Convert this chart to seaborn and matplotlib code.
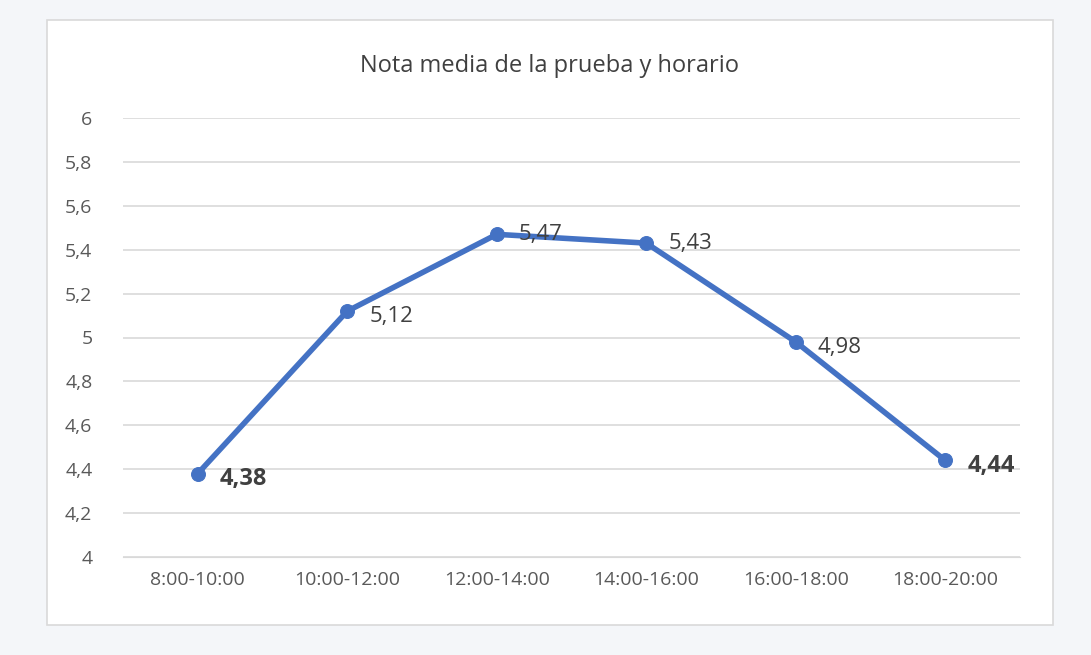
import matplotlib
matplotlib.use('Agg')
import matplotlib.pyplot as plt
import seaborn as sns
from matplotlib.patches import Rectangle

horarios = ['8:00-10:00', '10:00-12:00', '12:00-14:00', '14:00-16:00', '16:00-18:00', '18:00-20:00']
notas = [4.38, 5.12, 5.47, 5.43, 4.98, 4.44]
negrita = [True, False, False, False, False, True]

sns.set_style('white')
plt.rcParams['font.family'] = ['Open Sans', 'DejaVu Sans']

fig = plt.figure(figsize=(10.91, 6.55), dpi=100)
fig.patch.set_facecolor('#f4f6f9')
# marco blanco del gráfico, detrás de los ejes
fig.patches.append(Rectangle((47/1091, 1-625/655), 1006/1091, 605/655, transform=fig.transFigure,
                             facecolor='white', edgecolor='#d9d9d9', lw=1.2, zorder=-10))

ax = fig.add_axes([123/1091, 1-557/655, 897/1091, 439/655])
ax.patch.set_alpha(0)
x = list(range(len(horarios)))
sns.lineplot(x=x, y=notas, ax=ax, color='#4472C4', lw=4, marker='o', markersize=10,
             markeredgecolor='#4472C4', zorder=3)

ax.set_xlim(-0.5, 5.5)
ax.set_ylim(4, 6)
yt = [4 + 0.2*i for i in range(11)]
ax.set_yticks(yt)
ax.set_yticklabels([f'{v:.1f}'.rstrip('0').rstrip('.').replace('.', ',') for v in yt])
ax.set_xticks(x)
ax.set_xticklabels(horarios)
ax.tick_params(axis='both', length=0, labelsize=14, colors='#595959', pad=10)
ax.tick_params(axis='y', pad=22)
ax.grid(axis='y', color='#d9d9d9', lw=1.2)
ax.set_axisbelow(True)
for s in ['left', 'right', 'top']:
    ax.spines[s].set_visible(False)
ax.spines['bottom'].set_color('#d9d9d9')

for xi, yi, b in zip(x, notas, negrita):
    ax.annotate(f'{yi:.2f}'.replace('.', ','), (xi, yi), xytext=(16, 0 if xi in (2, 3) else -4),
                textcoords='offset points', va='center', ha='left',
                fontsize=17 if b else 16, fontweight='bold' if b else 'normal', color='#404040')

fig.text(550/1091, 1-66/655, 'Nota media de la prueba y horario', ha='center', va='center',
         fontsize=17, color='#404040')

fig.savefig('out.png', dpi=100, facecolor=fig.get_facecolor())
